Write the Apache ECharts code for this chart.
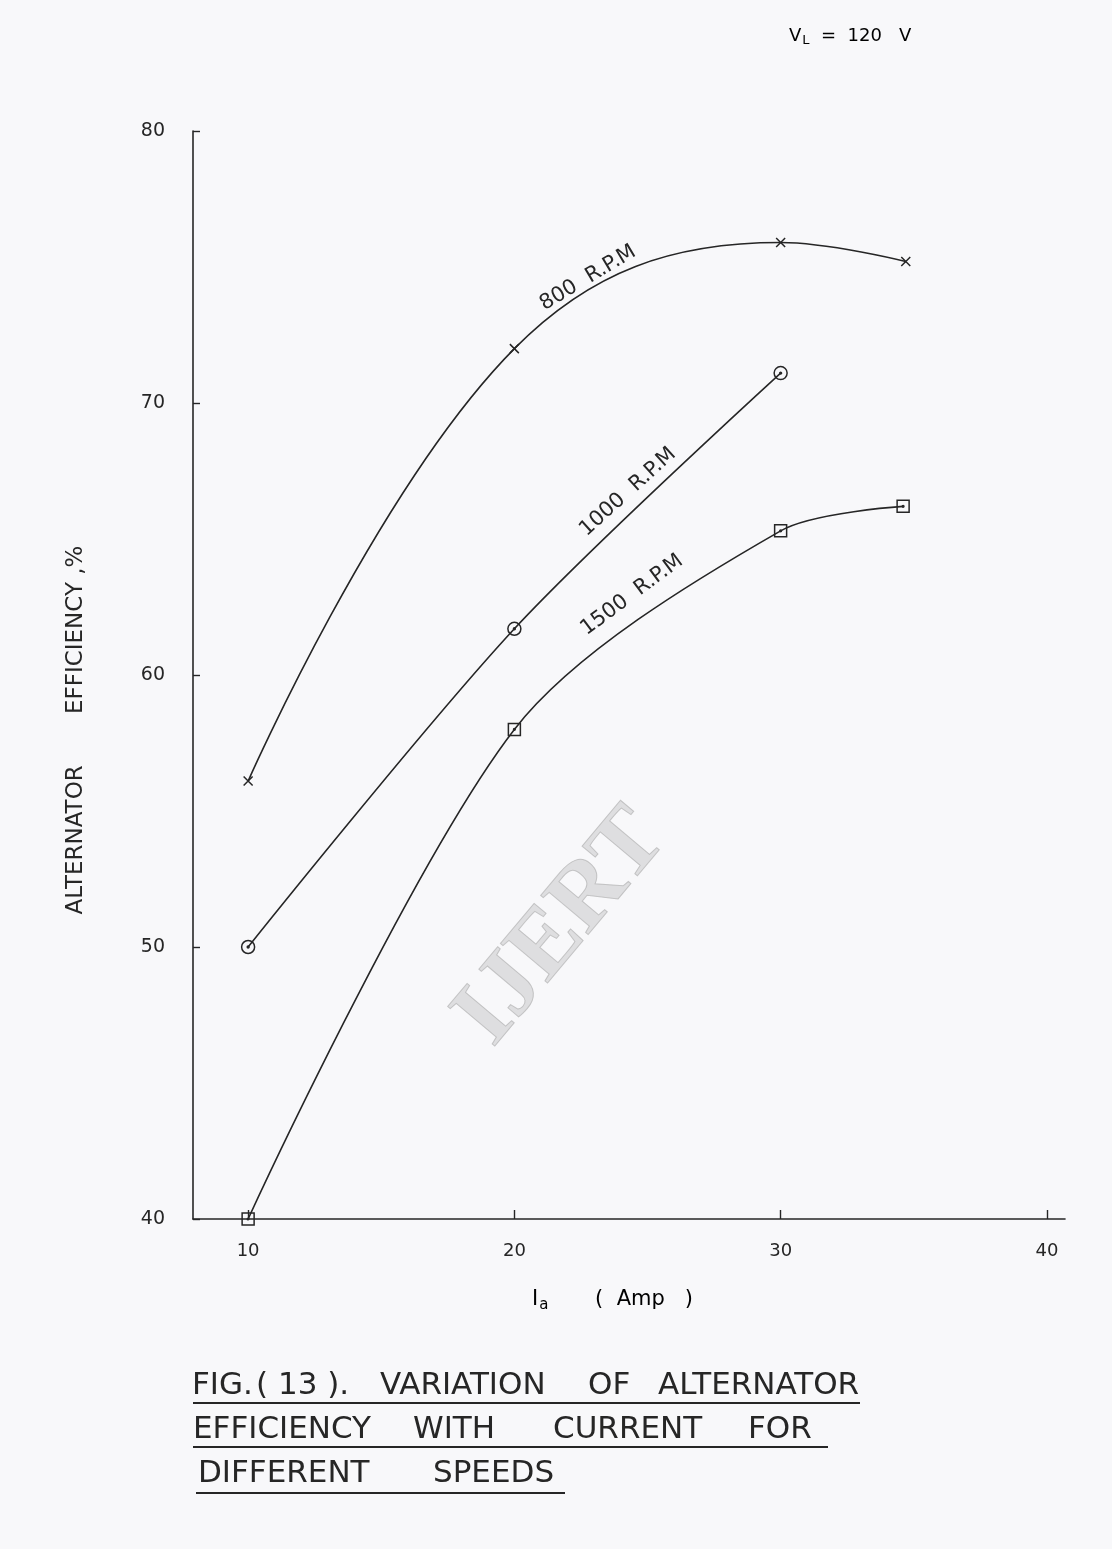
<!DOCTYPE html>
<html>
<head>
<meta charset="utf-8">
<script src="https://cdn.jsdelivr.net/npm/echarts@6/dist/echarts.min.js"></script>
<style>
html,body{margin:0;padding:0;background:#f8f8fa;}
#chart{width:1112px;height:1549px;}
</style>
</head>
<body>
<div id="chart"></div>
<script>
// ---- data ----
var xTicks = [10, 20, 30, 40];
var rpm800_x = [10, 20, 30, 34.7];
var rpm800_y = [56.1, 72.0, 75.9, 75.2];
var rpm1000_x = [10, 20, 30];
var rpm1000_y = [50.0, 61.7, 71.1];
var rpm1500_x = [10, 20, 30, 34.6];
var rpm1500_y = [40.0, 58.0, 65.3, 66.2];
var seriesNames = ['800 R.P.M', '1000 R.P.M', '1500 R.P.M'];
var captionLines = [
  ['FIG.', '( 13 ).', 'VARIATION', 'OF', 'ALTERNATOR'],
  ['EFFICIENCY', 'WITH', 'CURRENT', 'FOR'],
  ['DIFFERENT', 'SPEEDS']
];

function pairs(xs, ys) { return xs.map(function (x, i) { return [x, ys[i]]; }); }

var INK = '#262626';
var FONT = 'DejaVu Sans';

var symCross = 'path://M0,0L10,10M10,0L0,10';
var symCircleDot = 'path://M10,5A5,5,0,1,1,0,5A5,5,0,1,1,10,5ZM5.7,5A0.7,0.7,0,1,1,4.3,5A0.7,0.7,0,1,1,5.7,5Z';
var symSquareDot = 'path://M0,0L10,0L10,10L0,10ZM5.7,5A0.7,0.7,0,1,1,4.3,5A0.7,0.7,0,1,1,5.7,5Z';

function mkSeries(name, data, sym, size, smooth) {
  return {
    name: name, type: 'line', data: data, smooth: smooth,
    symbol: sym, symbolSize: size, showAllSymbol: true,
    lineStyle: { color: INK, width: 1.6 },
    itemStyle: { color: 'rgba(0,0,0,0)', borderColor: INK, borderWidth: 1.5 },
    z: 3
  };
}

var chart = echarts.init(document.getElementById('chart'), null, { renderer: 'canvas' });

var deg = Math.PI / 180;

// caption layout (word start x, line centre y, underline y, underline end)
var capWordX = [[192, 256, 380, 588, 658], [193, 413, 553, 748], [198, 433]];
var capLineY = [1386, 1430, 1474];
var capUnderY = [1403, 1447, 1493];
var capUnderX = [[193, 860], [193, 828], [196, 565]];

var graphics = [
  // watermark
  { type: 'text', x: 562, y: 928, rotation: 50 * deg, z: 0,
    style: { text: 'IJERT', fill: 'rgba(175,175,175,0.35)', stroke: 'rgba(130,130,130,0.4)', lineWidth: 1,
      font: 'bold 94px "Liberation Serif"', textAlign: 'center', textVerticalAlign: 'middle' } },
  // VL = 120 V
  { type: 'text', x: 789, y: 36, z: 5,
    style: { rich: { n: { fontSize: 18, fontFamily: FONT, color: INK }, s: { fontSize: 13, fontFamily: FONT, color: INK, padding: [9, 0, 0, 1] } },
      text: '{n|V}{s|L}{n|  =  120   V}', textVerticalAlign: 'middle' } },
  // y-axis name
  { type: 'text', x: 76, y: 730, rotation: 90 * deg, z: 5,
    style: { text: 'ALTERNATOR       EFFICIENCY ,%', fill: INK, font: '23px "' + FONT + '"', textAlign: 'center', textVerticalAlign: 'middle' } },
  // x-axis name
  { type: 'text', x: 532, y: 1300, z: 5,
    style: { rich: { n: { fontSize: 21, fontFamily: FONT, color: INK }, s: { fontSize: 15, fontFamily: FONT, color: INK, padding: [11, 0, 0, 1] } },
      text: '{n|I}{s|a}{n|       (  Amp   )}', textVerticalAlign: 'middle' } },
  // curve labels
  { type: 'text', x: 588, y: 278, rotation: 31 * deg, z: 5,
    style: { text: seriesNames[0].replace(' ', '  '), fill: INK, font: '21px "' + FONT + '"', textAlign: 'center', textVerticalAlign: 'middle' } },
  { type: 'text', x: 628, y: 492, rotation: 42 * deg, z: 5,
    style: { text: seriesNames[1].replace(' ', '  '), fill: INK, font: '21px "' + FONT + '"', textAlign: 'center', textVerticalAlign: 'middle' } },
  { type: 'text', x: 632, y: 595, rotation: 36.6 * deg, z: 5,
    style: { text: seriesNames[2].replace(' ', '  '), fill: INK, font: '21px "' + FONT + '"', textAlign: 'center', textVerticalAlign: 'middle' } }
];
captionLines.forEach(function (words, li) {
  words.forEach(function (w, wi) {
    graphics.push({ type: 'text', x: capWordX[li][wi], y: capLineY[li], z: 5,
      style: { text: w, fill: INK, font: '31px "' + FONT + '"', textVerticalAlign: 'middle' } });
  });
  graphics.push({ type: 'line', z: 5, shape: { x1: capUnderX[li][0], y1: capUnderY[li], x2: capUnderX[li][1], y2: capUnderY[li] },
    style: { stroke: INK, lineWidth: 2 } });
});

var option = {
  backgroundColor: '#f8f8fa',
  animation: false,
  grid: { left: 193, right: 47, top: 131, bottom: 330, containLabel: false },
  xAxis: {
    type: 'value', min: 7.93, max: 40.68,
    splitLine: { show: false },
    axisLine: { lineStyle: { color: INK, width: 1.6 } },
    axisTick: { inside: true, length: 9, lineStyle: { color: INK, width: 1.4 }, customValues: xTicks },
    axisLabel: { color: INK, fontFamily: FONT, fontSize: 18, margin: 23, customValues: xTicks }
  },
  yAxis: {
    type: 'value', min: 40, max: 80, interval: 10,
    splitLine: { show: false },
    axisLine: { show: true, lineStyle: { color: INK, width: 1.6 } },
    axisTick: { show: true, inside: true, length: 7, lineStyle: { color: INK, width: 1.4 } },
    axisLabel: { color: INK, fontFamily: FONT, fontSize: 19, margin: 28 }
  },
  series: [
    mkSeries(seriesNames[0], pairs(rpm800_x, rpm800_y), symCross, 9, 0.4),
    mkSeries(seriesNames[1], pairs(rpm1000_x, rpm1000_y), symCircleDot, 13, 0.3),
    mkSeries(seriesNames[2], pairs(rpm1500_x, rpm1500_y), symSquareDot, 12, 0.3)
  ],
  graphic: graphics
};
chart.setOption(option);
</script>
</body>
</html>
